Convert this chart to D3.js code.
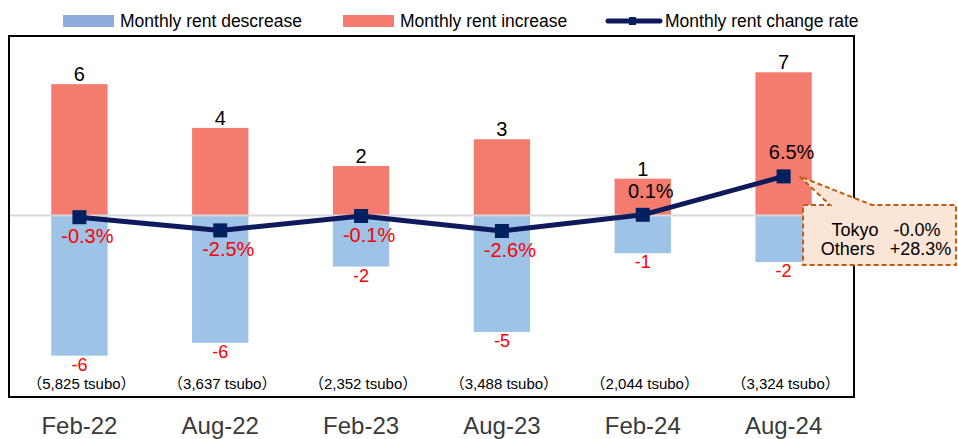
<!DOCTYPE html>
<html>
<head>
<meta charset="utf-8">
<script src="https://cdn.jsdelivr.net/npm/d3@7"></script>
<style>
  body { margin: 0; background: #fff; }
  svg { font-family: "Liberation Sans", Arial, "Noto Sans CJK JP", sans-serif; }
</style>
</head>
<body>
<div id="chart"></div>
<script>
var width = 958;
var height = 439;
var frame = {left: 9, top: 36, right: 854, bottom: 397};

// data
var periods = ["Feb-22", "Aug-22", "Feb-23", "Aug-23", "Feb-24", "Aug-24"];
var increaseCount = [6, 4, 2, 3, 1, 7];
var decreaseCount = [-6, -6, -2, -5, -1, -2];
// bar lengths as drawn (same unit for both directions)
var increaseBar = [6.0, 4.0, 2.26, 3.48, 1.68, 6.54];
var decreaseBar = [-6.41, -5.82, -2.34, -5.33, -1.73, -2.13];
var changeRate = [-0.3, -2.5, -0.1, -2.6, 0.1, 6.5];
var tsubo = ["5,825", "3,637", "2,352", "3,488", "2,044", "3,324"];
var calloutLines = ["Tokyo   -0.0%", "Others   +28.3%"];

var redBar = "#F47C6E";
var blueBar = "#9DC3E6";
var navy = "#0E1A5C";

var svg = d3.select("#chart")
  .append("svg")
  .attr("width", width)
  .attr("height", height);

var xScale = d3.scaleBand()
  .domain(periods)
  .range([frame.left, frame.right])
  .paddingInner(0.6)
  .paddingOuter(0.3);

var yScale = d3.scaleLinear()
  .domain([-8.3, 8.2])
  .range([frame.bottom, frame.top]);

// secondary scale for the change rate line (%)
var y2Scale = d3.scaleLinear()
  .domain([-30.27, 29.9])
  .range([frame.bottom, frame.top]);

function cx(i) { return xScale(periods[i]) + xScale.bandwidth() / 2; }

// frame
svg.append("rect")
  .attr("x", frame.left)
  .attr("y", frame.top)
  .attr("width", frame.right - frame.left)
  .attr("height", frame.bottom - frame.top)
  .attr("fill", "none")
  .attr("stroke", "#000")
  .attr("stroke-width", 2);

// bars
svg.selectAll("rect.inc")
  .data(increaseBar)
  .enter()
  .append("rect")
    .attr("class", "inc")
    .attr("x", function(d, i) { return xScale(periods[i]); })
    .attr("y", function(d) { return yScale(d); })
    .attr("width", xScale.bandwidth())
    .attr("height", function(d) { return yScale(0) - yScale(d); })
    .attr("fill", redBar);

svg.selectAll("rect.dec")
  .data(decreaseBar)
  .enter()
  .append("rect")
    .attr("class", "dec")
    .attr("x", function(d, i) { return xScale(periods[i]); })
    .attr("y", yScale(0))
    .attr("width", xScale.bandwidth())
    .attr("height", function(d) { return yScale(d) - yScale(0); })
    .attr("fill", blueBar);

// zero line
svg.append("line")
  .attr("x1", frame.left + 1)
  .attr("x2", frame.right - 1)
  .attr("y1", yScale(0))
  .attr("y2", yScale(0))
  .attr("stroke", "#D9D9D9")
  .attr("stroke-width", 2);

// count labels
svg.selectAll("text.inc")
  .data(increaseCount)
  .enter()
  .append("text")
    .attr("class", "inc")
    .attr("x", function(d, i) { return cx(i); })
    .attr("y", function(d, i) { return yScale(increaseBar[i]) - 3; })
    .attr("text-anchor", "middle")
    .attr("font-size", 20)
    .attr("fill", "#000")
    .text(function(d) { return d; });

svg.selectAll("text.dec")
  .data(decreaseCount)
  .enter()
  .append("text")
    .attr("class", "dec")
    .attr("x", function(d, i) { return cx(i); })
    .attr("y", function(d, i) { return yScale(decreaseBar[i]) + 15; })
    .attr("text-anchor", "middle")
    .attr("font-size", 18)
    .attr("fill", "#FF0000")
    .text(function(d) { return d; });

// tsubo labels
svg.selectAll("text.tsubo")
  .data(tsubo)
  .enter()
  .append("text")
    .attr("class", "tsubo")
    .attr("x", function(d, i) { return cx(i) + 2; })
    .attr("y", 389)
    .attr("text-anchor", "middle")
    .attr("font-size", 15)
    .attr("fill", "#000")
    .text(function(d) { return "\uFF08" + d + " tsubo\uFF09"; });

// change rate line
var line = d3.line()
  .x(function(d, i) { return cx(i); })
  .y(function(d) { return y2Scale(d); });

// callout (drawn under the line marker, over the frame)
var last = changeRate.length - 1;
var tipX = cx(last) + 16;
var tipY = y2Scale(changeRate[last]);
var box = {x0: 803, y0: 205, x1: 956, y1: 265};
svg.append("path")
  .attr("d", "M" + box.x0 + "," + box.y0 + "L830," + box.y0 + "L" + tipX + "," + tipY +
    "L872," + box.y0 + "L" + box.x1 + "," + box.y0 + "L" + box.x1 + "," + box.y1 +
    "L" + box.x0 + "," + box.y1 + "Z")
  .attr("fill", "#FBE5D6")
  .attr("stroke", "#C55A11")
  .attr("stroke-width", 2)
  .attr("stroke-dasharray", "5,3");

svg.selectAll("text.callout")
  .data(calloutLines)
  .enter()
  .append("text")
    .attr("class", "callout")
    .attr("x", 886)
    .attr("y", function(d, i) { return 236 + i * 19; })
    .attr("text-anchor", "middle")
    .attr("font-size", 18)
    .attr("fill", "#000")
    .style("white-space", "pre")
    .text(function(d) { return d; });

svg.append("path")
  .datum(changeRate)
  .attr("d", line)
  .attr("fill", "none")
  .attr("stroke", navy)
  .attr("stroke-width", 5)
  .attr("stroke-linejoin", "round");

svg.selectAll("rect.marker")
  .data(changeRate)
  .enter()
  .append("rect")
    .attr("class", "marker")
    .attr("x", function(d, i) { return cx(i) - 7; })
    .attr("y", function(d) { return y2Scale(d) - 7; })
    .attr("width", 14)
    .attr("height", 14)
    .attr("fill", "#002060");

// rate labels
svg.selectAll("text.rate")
  .data(changeRate)
  .enter()
  .append("text")
    .attr("class", "rate")
    .attr("x", function(d, i) { return cx(i) + 8; })
    .attr("y", function(d) { return d < 0 ? y2Scale(d) + 26 : y2Scale(d) - 17; })
    .attr("text-anchor", "middle")
    .attr("font-size", 20)
    .attr("fill", function(d) { return d < 0 ? "#FF0000" : "#000"; })
    .text(function(d) { return d.toFixed(1) + "%"; });

// x axis labels
var xAxis = svg.append("g")
  .attr("transform", `translate(0,${frame.bottom})`)
  .call(d3.axisBottom(xScale).tickSize(0).tickPadding(20));
xAxis.select(".domain").remove();
xAxis.selectAll("text")
  .attr("font-size", 24)
  .attr("font-family", "Liberation Sans, Arial, sans-serif")
  .attr("fill", "#3a3a3a");

// legend
var legend = svg.append("g").attr("font-size", 17.5).attr("fill", "#000");
legend.append("rect").attr("x", 63).attr("y", 15).attr("width", 51).attr("height", 12).attr("fill", "#8FAADC");
legend.append("text").attr("x", 120).attr("y", 27).text("Monthly rent descrease");
legend.append("rect").attr("x", 343).attr("y", 15).attr("width", 51).attr("height", 12).attr("fill", redBar);
legend.append("text").attr("x", 400).attr("y", 27).text("Monthly rent increase");
legend.append("line").attr("x1", 608).attr("x2", 660).attr("y1", 21).attr("y2", 21)
  .attr("stroke", navy).attr("stroke-width", 5).attr("stroke-linecap", "round");
legend.append("rect").attr("x", 629).attr("y", 17).attr("width", 7).attr("height", 8).attr("fill", "#002060");
legend.append("text").attr("x", 665).attr("y", 27).text("Monthly rent change rate");
</script>
</body>
</html>
